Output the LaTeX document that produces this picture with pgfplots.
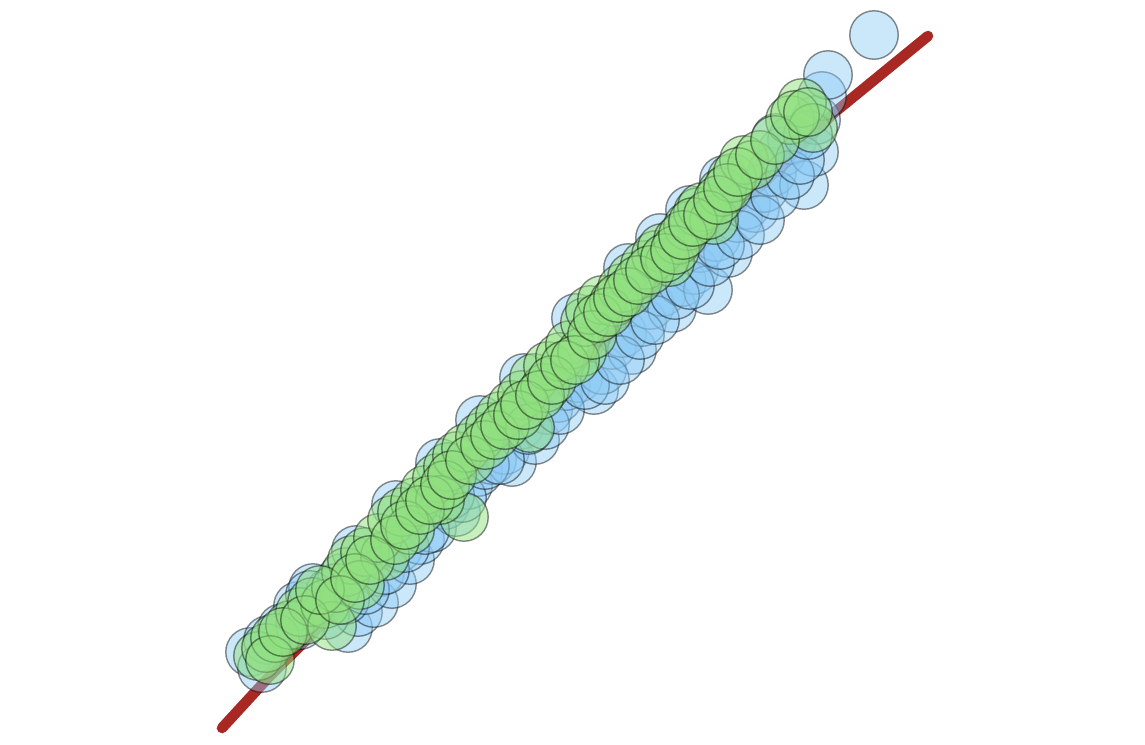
\documentclass[border=0pt]{standalone}
\usepackage{pgfplots}
\pgfplotsset{compat=1.18}
\definecolor{ptblue}{RGB}{140,202,245}
\definecolor{ptgreen}{RGB}{145,225,128}
\definecolor{fitred}{RGB}{168,40,36}
\begin{document}
\begin{tikzpicture}
\begin{axis}[
    width=11.45cm, height=7.44cm,
    scale only axis,
    xmin=0, xmax=1145,
    ymin=0, ymax=744,
    y dir=reverse,
    hide axis,
    clip=false,
]
% frame for the page size
\addplot[draw=none] coordinates {(0,0) (1145,744)};

% fitted line
\addplot[fitred, line width=3pt, line cap=round] coordinates {
    (222,728) (268,678) (835,112) (928,36)
};

% blue sample
\addplot[only marks, mark=*, mark size=6.9pt,
    mark options={fill=ptblue, fill opacity=0.45, draw=black, draw opacity=0.45, line width=0.4pt}]
coordinates {
    (250,652) (268,640) (282,628) (298,606) (313,588) (330,592) (342,578)
    (348,628) (358,612) (374,603) (380,572) (392,584) (398,548) (410,560)
    (420,540) (432,528) (445,505) (456,512) (468,485) (478,472) (492,460)
    (505,450) (512,462) (520,425) (535,440) (548,410) (558,398) (566,386)
    (578,378) (594,390) (602,370) (612,345) (622,333) (632,350) (642,322)
    (650,305) (662,292) (672,308) (682,282) (694,270) (700,248) (708,290)
    (716,237) (728,253) (738,218) (746,205) (755,208) (764,188) (772,172)
    (782,152) (792,140) (804,185) (814,152) (816,120) (822,96) (828,75)
    (874,35)
    (310,595) (356,550) (396,505) (440,463) (480,420) (524,378) (576,318)
    (628,268) (660,238) (690,210) (724,180) (776,138)
    (262,668) (300,625) (325,615) (345,600) (365,590) (385,570) (405,548)
    (425,530) (450,495) (462,498) (485,465) (500,460) (528,430) (545,425)
    (560,410) (585,385) (605,380) (620,360) (640,335) (655,320) (675,295)
    (690,285) (710,262) (720,245) (740,235) (760,220) (775,195) (790,175)
    (800,160) (808,135)
};

% green sample
\addplot[only marks, mark=*, mark size=6.9pt,
    mark options={fill=ptgreen, fill opacity=0.5, draw=black, draw opacity=0.45, line width=0.4pt}]
coordinates {
    (258,656) (266,648) (275,638) (290,625) (300,612) (312,602) (325,604)
    (332,626) (336,588) (346,572) (352,560) (365,552) (385,556) (378,538)
    (392,520) (402,512) (415,502) (425,490) (437,478) (448,467) (457,456)
    (466,448) (480,437) (490,427) (500,416) (512,405) (522,395) (530,428)
    (534,378) (545,388) (548,366) (560,357) (570,345) (582,352) (585,322)
    (590,310) (602,300) (614,302) (622,288) (632,277) (645,265) (656,255)
    (662,248) (670,262) (678,240) (688,226) (698,212) (702,207) (714,220)
    (722,192) (732,178) (744,160) (752,165) (790,120) (802,103) (813,128)
    (464,517) (440,500) (360,585) (410,530)
    (270,660) (283,632) (305,620) (320,590) (340,600) (355,578) (370,560)
    (395,540) (405,525) (420,510) (430,500) (445,485) (452,475) (470,460)
    (485,445) (495,435) (505,425) (518,415) (525,405) (540,395) (552,380)
    (565,365) (575,360) (592,335) (598,318) (608,312) (618,298) (628,292)
    (638,280) (650,270) (665,258) (675,250) (683,235) (693,222) (708,215)
    (718,200) (728,188) (738,172) (760,155) (775,140) (795,115) (808,112)
};
\end{axis}
\end{tikzpicture}
\end{document}
